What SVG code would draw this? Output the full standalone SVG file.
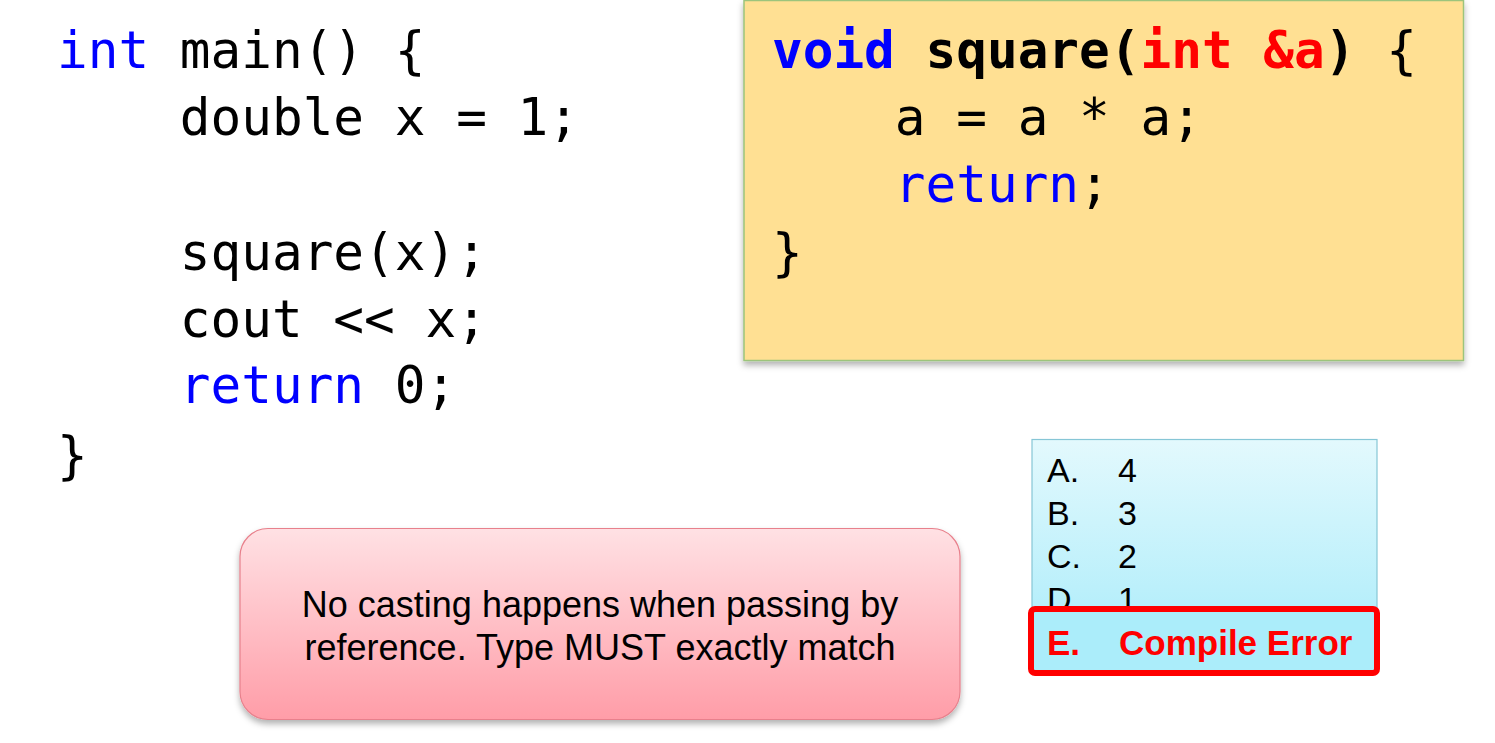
<svg xmlns="http://www.w3.org/2000/svg" width="1495" height="743" viewBox="0 0 1495 743">
  <defs>
    <style>
      .code { font-family: "DejaVu Sans Mono", "Liberation Mono", monospace; font-size: 51px; fill: #000; }
      .kw { fill: #0000FF; }
      .red { fill: #FF0000; }
      .b { font-weight: bold; }
      .sans { font-family: "Liberation Sans", Arial, sans-serif; fill: #000; }
    </style>
    <linearGradient id="pinkGrad" x1="0" y1="0" x2="0" y2="1">
      <stop offset="0" stop-color="#FFE1E4"/>
      <stop offset="1" stop-color="#FF9DA8"/>
    </linearGradient>
    <linearGradient id="cyanGrad" x1="0" y1="0" x2="0" y2="1">
      <stop offset="0" stop-color="#E3F9FD"/>
      <stop offset="1" stop-color="#A6EBFA"/>
    </linearGradient>
    <filter id="shadow" x="-5%" y="-5%" width="110%" height="120%">
      <feDropShadow dx="0" dy="4" stdDeviation="3" flood-color="#000" flood-opacity="0.3"/>
    </filter>
  </defs>

  <rect width="1495" height="743" fill="#FFFFFF"/>

  <!-- main function code -->
  <g id="main-code" class="code">
    <text x="57" y="68"><tspan class="kw">int</tspan> main() {</text>
    <text x="57" y="135" xml:space="preserve">    double x = 1;</text>
    <text x="57" y="270" xml:space="preserve">    square(x);</text>
    <text x="57" y="337" xml:space="preserve">    cout &lt;&lt; x;</text>
    <text x="57" y="403" xml:space="preserve">    <tspan class="kw">return</tspan> 0;</text>
    <text x="57" y="473">}</text>
  </g>

  <!-- square function box -->
  <g id="square-box">
    <rect x="744" y="0.5" width="719.5" height="360" fill="#FFE093" stroke="#9CC47C" stroke-width="1.5" filter="url(#shadow)"/>
    <g class="code">
      <text x="772" y="68"><tspan class="kw b">void</tspan> <tspan class="b">square(</tspan><tspan class="red b">int &amp;a</tspan><tspan class="b">)</tspan> {</text>
      <text x="772" y="135" xml:space="preserve">    a = a * a;</text>
      <text x="772" y="202" xml:space="preserve">    <tspan class="kw">return</tspan>;</text>
      <text x="772" y="270">}</text>
    </g>
  </g>

  <!-- answer choices box -->
  <g id="choices">
    <rect x="1032" y="439.5" width="345" height="230" fill="url(#cyanGrad)" stroke="#86C6D6" stroke-width="1.2"/>
    <g class="sans" font-size="34">
      <text x="1047" y="482">A.</text><text x="1118" y="482">4</text>
      <text x="1047" y="525">B.</text><text x="1118" y="525">3</text>
      <text x="1047" y="568">C.</text><text x="1118" y="568">2</text>
      <text x="1047" y="611">D.</text><text x="1118" y="611">1</text>
    </g>
  </g>

  <!-- highlighted answer -->
  <g id="answer-e">
    <rect x="1031" y="609" width="346" height="64" rx="4" fill="#ABEDFA" stroke="#FF0000" stroke-width="6"/>
    <g class="sans" font-size="35" style="fill:#FF0000;font-weight:bold">
      <text x="1047" y="655">E.</text>
      <text x="1119" y="655">Compile Error</text>
    </g>
  </g>

  <!-- note box -->
  <g id="note">
    <rect x="240" y="528.5" width="720" height="191" rx="28" fill="url(#pinkGrad)" stroke="#E8808C" stroke-width="1.2" filter="url(#shadow)"/>
    <g class="sans" font-size="36" text-anchor="middle">
      <text x="600" y="617">No casting happens when passing by</text>
      <text x="600" y="660">reference. Type MUST exactly match</text>
    </g>
  </g>

  <g id="connectors"></g>
</svg>
